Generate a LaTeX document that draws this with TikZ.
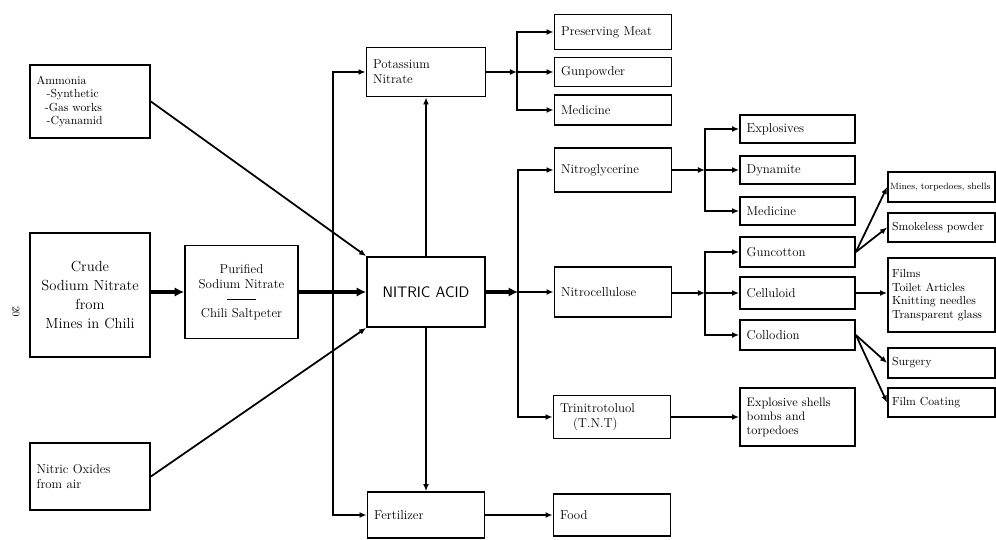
\documentclass[tikz,border=0pt]{standalone}
\usepackage{tikz}
\usetikzlibrary{arrows.meta, positioning, calc}

\tikzset{
    box/.style={draw, line width=1.5pt, inner xsep=0.2cm, inner ysep=0pt, align=left, font=\fontsize{11}{13}\selectfont},
    cbox/.style={box, align=center},
    rbox/.style={box, inner xsep=0.12cm, text width=2.97cm, font=\fontsize{10}{11.5}\selectfont},
    flow/.style={line width=1.5pt, -{Latex[length=6pt,width=5pt]}},
    mainflow/.style={line width=3.5pt, -{Latex[length=8pt,width=8pt]}}
}

\begin{document}
\begin{tikzpicture}[x=0.03cm, y=-0.03cm]
    \useasboundingbox (0,0) rectangle (996,540);
    \node[rotate=-90, font=\small] (page) at (16,312) {20};

    % Sources of nitrate
    \node[box, text width=3.2cm, minimum height=2.19cm, font=\fontsize{10}{11.5}\selectfont] (amm) at (90,101.5) {Ammonia\\\hspace*{0.3cm}-Synthetic\\\hspace*{0.25cm}-Gas works\\\hspace*{0.3cm}-Cyanamid};
    \node[cbox, text width=3.2cm, minimum height=3.72cm, font=\fontsize{12.5}{14.5}\selectfont] (crude) at (90,295) {Crude\\[2pt]Sodium Nitrate\\[2pt]from\\[2pt]Mines in Chili};
    \node[cbox, text width=2.99cm, minimum height=2.79cm] (pur) at (241.5,292) {Purified\\Sodium Nitrate\\[-3pt]\rule{0.85cm}{0.6pt}\\[2pt]Chili Saltpeter};
    \node[box, text width=3.2cm, minimum height=2.01cm] (oxi) at (90,476.5) {Nitric Oxides\\from air};

    % Nitric acid
    \node[cbox, text width=3.14cm, minimum height=2.1cm, font=\sffamily\fontsize{13}{15}\selectfont] (na) at (426,292) {NITRIC ACID};
    \node[box, text width=3.17cm, minimum height=1.47cm] (pot) at (426,72) {Potassium\\Nitrate};
    \node[box, text width=3.11cm, minimum height=1.38cm] (fert) at (426,515) {Fertilizer};

    % Third column
    \node[box, text width=3.11cm, minimum height=1.05cm] (meat) at (613,32) {Preserving Meat};
    \node[box, text width=3.11cm, minimum height=0.87cm] (gun) at (613,72) {Gunpowder};
    \node[box, text width=3.11cm, minimum height=0.9cm] (med) at (613,110) {Medicine};
    \node[box, text width=3.11cm, minimum height=1.32cm] (ngly) at (613,170) {Nitroglycerine};
    \node[box, text width=3.11cm, minimum height=1.5cm] (ncel) at (613,292) {Nitrocellulose};
    \node[box, text width=3.11cm, minimum height=1.29cm] (tnt) at (612,417) {Trinitrotoluol\\\quad(T.N.T)};
    \node[box, text width=3.11cm, minimum height=1.26cm] (food) at (612,515) {Food};

    % Fourth column
    \node[box, text width=3.05cm, minimum height=0.84cm] (expl) at (797.5,129) {Explosives};
    \node[box, text width=3.05cm, minimum height=0.84cm] (dyn) at (797.5,170) {Dynamite};
    \node[box, text width=3.05cm, minimum height=0.84cm] (medb) at (797.5,211) {Medicine};
    \node[box, text width=3.05cm, minimum height=0.9cm] (gunc) at (797.5,252) {Guncotton};
    \node[box, text width=3.05cm, minimum height=0.96cm] (cell) at (797.5,293) {Celluloid};
    \node[box, text width=3.05cm, minimum height=0.9cm] (coll) at (797.5,335) {Collodion};
    \node[box, text width=3.05cm, minimum height=1.74cm, font=\fontsize{10.5}{12}\selectfont] (shell) at (797.5,417) {Explosive shells\\bombs and\\torpedoes};

    % Fifth column
    \node[rbox, inner xsep=0.06cm, text width=3.09cm, minimum height=0.9cm, font=\fontsize{7.8}{9}\selectfont] (mines) at (941.5,187) {Mines, torpedoes, shells};
    \node[rbox, minimum height=0.87cm] (smoke) at (941.5,227.5) {Smokeless powder};
    \node[rbox, minimum height=2.22cm] (films) at (941.5,295) {Films\\Toilet Articles\\Knitting needles\\Transparent glass};
    \node[rbox, minimum height=0.9cm] (surg) at (941.5,363) {Surgery};
    \node[rbox, minimum height=0.87cm] (coat) at (941.5,402.5) {Film Coating};

    % Connectors
    \coordinate (spl) at (333,292);
    \coordinate (nsp) at (518,292);
    \coordinate (psp) at (517,72);
    \coordinate (gsp) at (705,170);
    \coordinate (csp) at (705,293);

    \draw[mainflow] (crude.east |- pur) -- (pur);
    \draw[mainflow] (pur) -- (na);
    \draw[flow] (spl) |- (pot);
    \draw[flow] (spl) |- (fert);
    \draw[flow] (na) -- (pot);
    \draw[flow] (na) -- (fert);
    \draw[flow] (amm.east) -- (na.north west);
    \draw[flow] (oxi.east) -- (na.south west);

    \draw[flow] (pot) -- (psp);
    \draw[flow] (psp) |- (meat);
    \draw[flow] (psp) -- (gun);
    \draw[flow] (psp) |- (med);

    \draw[mainflow] (na) -- (nsp);
    \draw[flow] (nsp) |- (ngly);
    \draw[flow] (nsp) -- (ncel);
    \draw[flow] (nsp) |- (tnt);
    \draw[flow] (fert) -- (food);

    \draw[flow] (ngly) -- (gsp);
    \draw[flow] (gsp) |- (expl);
    \draw[flow] (gsp) -- (dyn);
    \draw[flow] (gsp) |- (medb);

    \draw[flow] (ncel.east |- csp) -- (csp);
    \draw[flow] (csp) |- (gunc);
    \draw[flow] (csp) -- (cell);
    \draw[flow] (csp) |- (coll);
    \draw[flow] (tnt) -- (shell);

    \draw[flow] (gunc.east) -- (mines.west);
    \draw[flow] (gunc.east) -- (smoke.west);
    \draw[flow] (cell.east) -- (cell.east -| films.west);
    \draw[flow] (coll.east) -- (surg.west);
    \draw[flow] (coll.east) -- (coat.west);
\end{tikzpicture}
\end{document}
